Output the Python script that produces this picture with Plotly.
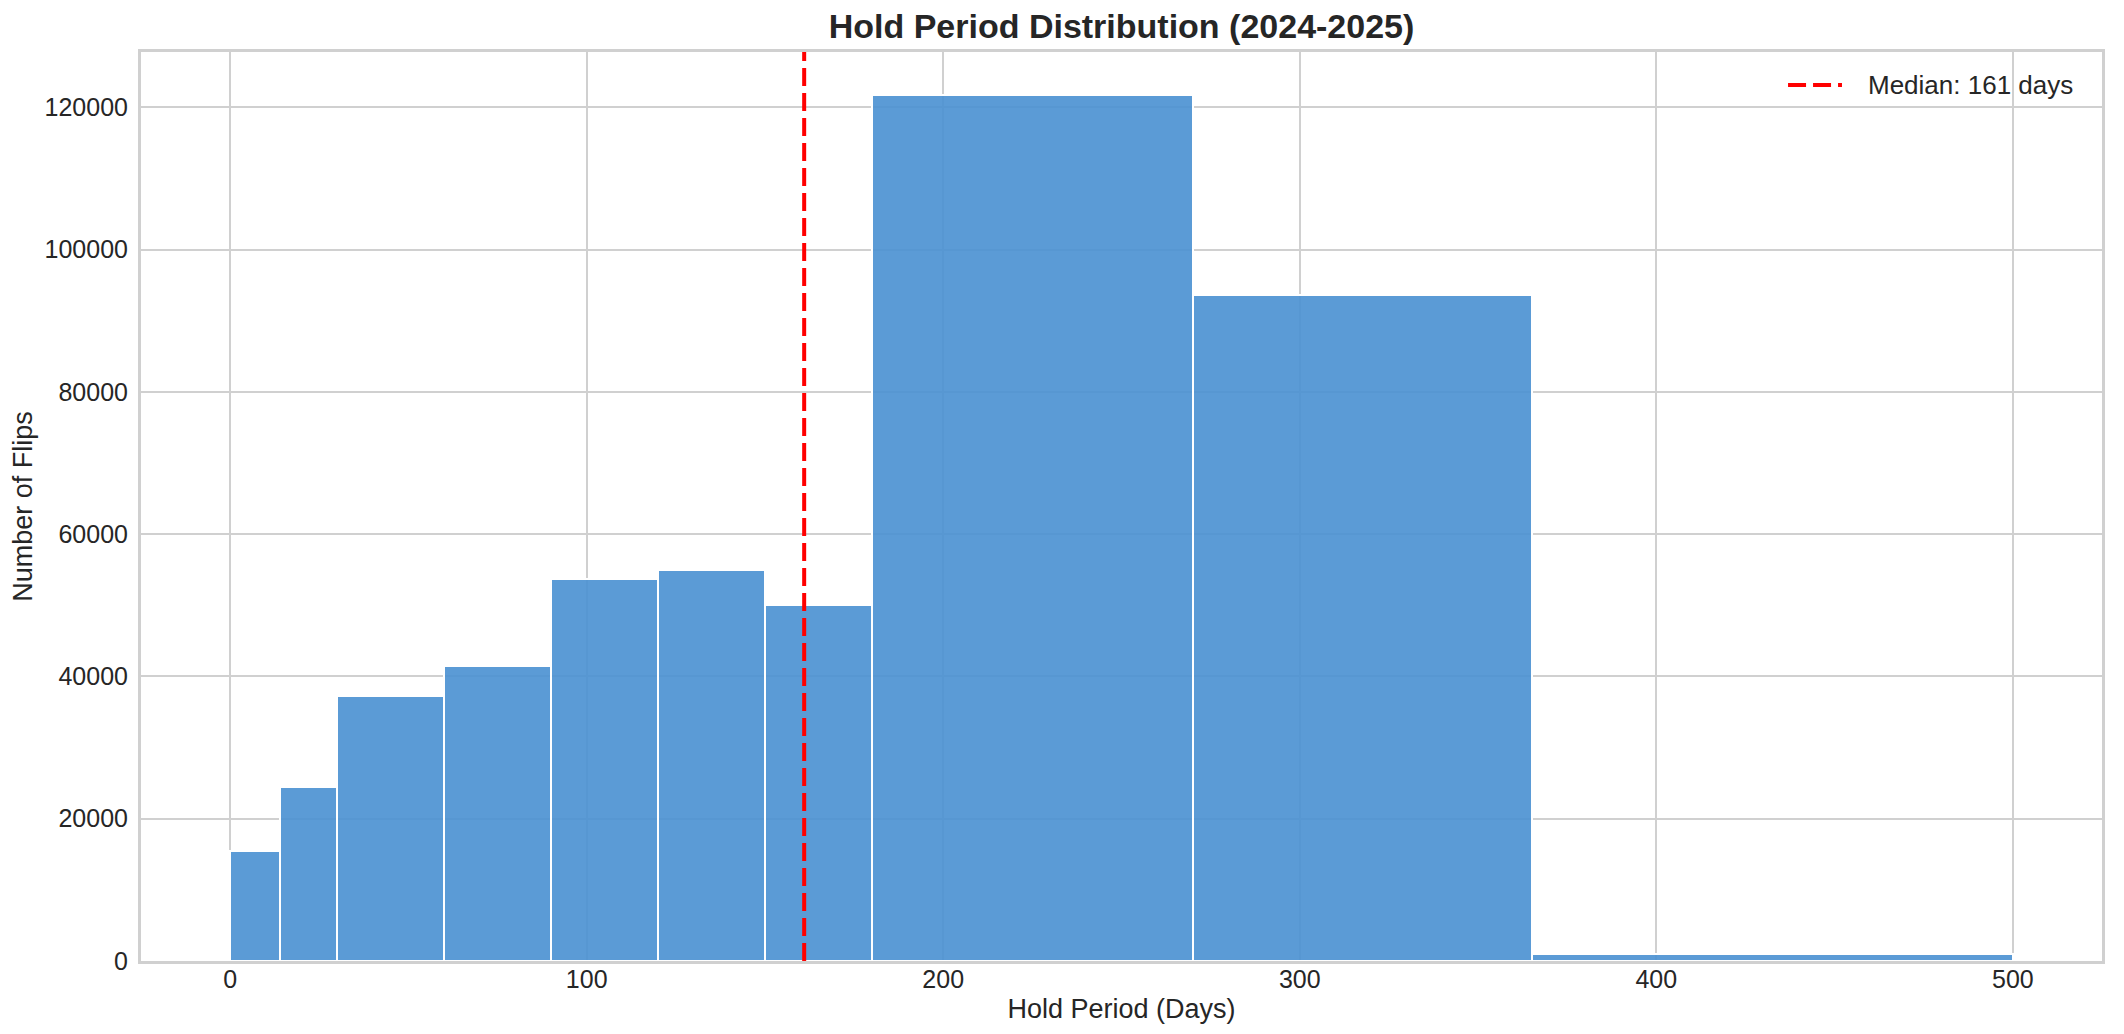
import plotly.graph_objects as go

# Histogram data (variable-width bins, in days)
bin_edges = [0, 14, 30, 60, 90, 120, 150, 180, 270, 365, 500]
counts = [15400, 24500, 37300, 41500, 53700, 54900, 50000, 121700, 93600, 1000]
median_days = 161
median_label = f"Median: {median_days} days"

x_ticks = [0, 100, 200, 300, 400, 500]
y_ticks = [0, 20000, 40000, 60000, 80000, 100000, 120000]

centers = [(a + b) / 2 for a, b in zip(bin_edges[:-1], bin_edges[1:])]
widths = [b - a for a, b in zip(bin_edges[:-1], bin_edges[1:])]

y_max = max(counts) * 1.05
x_min, x_max = -25, 525

FONT = "Liberation Sans, Arial, Helvetica, sans-serif"
TXT = "#262626"
GRID = "#d0d0d0"
MEDIAN_DASH = "18px,7px"

fig = go.Figure()
fig.add_trace(go.Bar(
    x=centers, y=counts, width=widths,
    marker=dict(color="rgba(73,144,210,0.9)", line=dict(color="white", width=2)),
    showlegend=False, hoverinfo="x+y",
))
fig.add_trace(go.Scatter(
    x=[median_days, median_days], y=[0, y_max],
    mode="lines", name=median_label, showlegend=False,
    line=dict(color="red", width=4, dash=MEDIAN_DASH),
))

# legend (drawn in paper coordinates, top-right inside the axes)
fig.add_shape(type="line", xref="paper", yref="paper",
              x0=0.8399, x1=0.8674, y0=0.9637, y1=0.9637,
              line=dict(color="red", width=4, dash=MEDIAN_DASH))
fig.add_annotation(text=median_label, xref="paper", yref="paper",
                   x=0.8797, y=0.9637, xanchor="left", yanchor="middle",
                   showarrow=False, font=dict(size=26, color=TXT, family=FONT))

fig.update_layout(
    width=2116, height=1026,
    margin=dict(l=133, r=22, t=44, b=73, autoexpand=False),
    paper_bgcolor="white", plot_bgcolor="white",
    font=dict(family=FONT, color=TXT, size=25),
    title=dict(text="<b>Hold Period Distribution (2024-2025)</b>",
               x=0.5, xref="paper", xanchor="center",
               y=1 - 18 / 1026, yref="container", yanchor="middle",
               font=dict(size=34, color=TXT, family=FONT)),
    bargap=0,
    showlegend=False,
)
fig.update_xaxes(
    range=[x_min, x_max], tickvals=x_ticks, ticktext=[str(v) for v in x_ticks],
    showgrid=True, gridcolor=GRID, gridwidth=2,
    showline=True, linecolor=GRID, linewidth=3, mirror=True,
    zeroline=False, ticks="", ticklen=0, automargin=True, ticklabelstandoff=-6,
    tickfont=dict(size=25, color=TXT),
    title=dict(text="Hold Period (Days)", font=dict(size=27, color=TXT), standoff=8),
)
fig.update_yaxes(
    range=[0, y_max], tickvals=y_ticks, ticktext=[str(v) for v in y_ticks],
    showgrid=True, gridcolor=GRID, gridwidth=2,
    showline=True, linecolor=GRID, linewidth=3, mirror=True,
    zeroline=False, ticks="", ticklen=0, automargin=True, ticklabelstandoff=5,
    tickfont=dict(size=25, color=TXT),
    title=dict(text="Number of Flips", font=dict(size=27, color=TXT), standoff=12),
)

fig.write_html("out.html")
